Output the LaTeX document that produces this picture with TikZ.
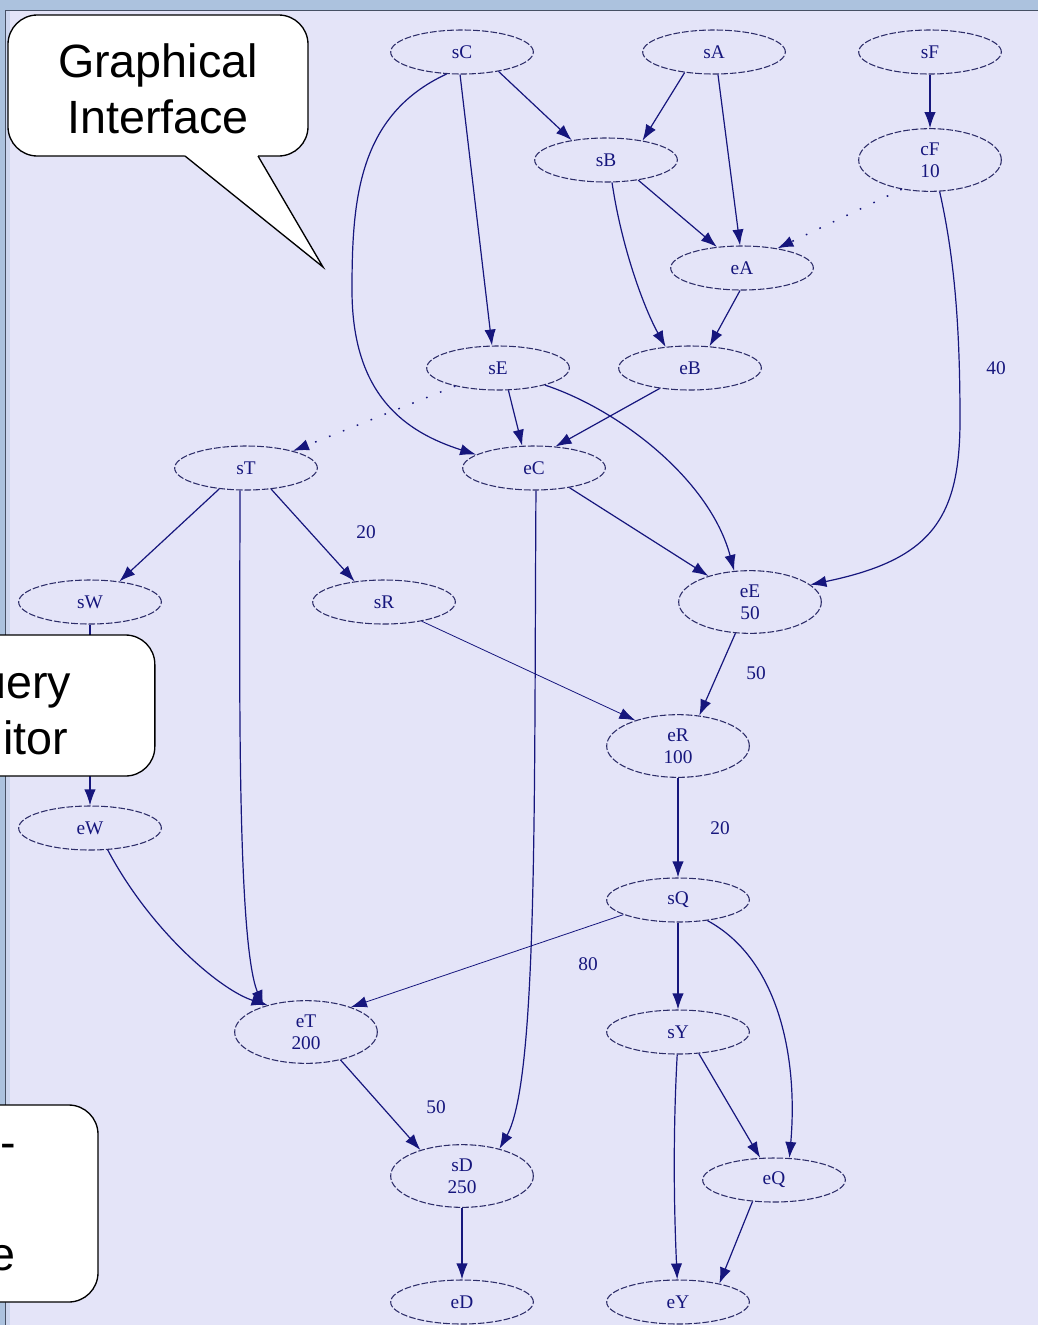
\documentclass[tikz,border=0pt]{standalone}
\usepackage{fontspec}
\setmainfont{Liberation Serif}
\newfontfamily\calloutfont{Liberation Sans}
\usetikzlibrary{arrows.meta,shapes.geometric}

\definecolor{pagebg}{RGB}{228,228,248}
\definecolor{frameblue}{RGB}{172,194,222}
\definecolor{framestrip}{RGB}{205,214,238}
\definecolor{framedark}{RGB}{70,80,100}
\definecolor{edgeblue}{RGB}{22,22,125}
\definecolor{nodeline}{RGB}{45,45,105}

\begin{document}
\begin{tikzpicture}[x=0.75pt,y=-0.75pt,
  gnode/.style={ellipse, draw=nodeline, dash pattern=on 5pt off 1.5pt,
    line width=0.8pt, minimum width=107pt, minimum height=33pt, inner sep=0pt,
    font=\fontsize{14.5}{16.5}\selectfont, text=edgeblue, align=center},
  tall/.style={minimum height=47pt},
  link/.style={draw=edgeblue, line width=0.9pt, -{Latex[length=12pt,width=8.5pt]}},
  faint/.style={link, line width=0.6pt},
  dotlink/.style={link, line width=1.1pt, dash pattern=on 1.2pt off 10pt},
  elabel/.style={font=\fontsize{14.5}{16.5}\selectfont, text=edgeblue, inner sep=0pt},
  callout/.style={draw=black, fill=white, line width=1pt, rounded corners=22pt,
    font=\calloutfont\fontsize{35}{42}\selectfont, align=center, inner sep=0pt},
  callouttext/.style={font=\calloutfont\fontsize{35}{42}\selectfont, inner sep=0pt}
]
% page and window frame
\useasboundingbox (0,0) rectangle (1038,1325);
\clip (0,0) rectangle (1038,1325);
\fill[pagebg] (0,0) rectangle (1038,1325);
\fill[frameblue] (0,0) rectangle (1038,10);
\fill[frameblue] (0,0) rectangle (5,1325);
\fill[framestrip] (6,11) rectangle (10,1325);
\draw[framedark, line width=1pt] (5.5,1325) -- (5.5,10.5) -- (1038,10.5);

% graph nodes
\node[gnode] (sC) at (462,52) {sC};
\node[gnode] (sA) at (714,52) {sA};
\node[gnode] (sF) at (930,52) {sF};
\node[gnode] (sB) at (606,160) {sB};
\node[gnode, tall] (cF) at (930,160) {cF\\10};
\node[gnode] (eA) at (742,268) {eA};
\node[gnode] (sE) at (498,368) {sE};
\node[gnode] (eB) at (690,368) {eB};
\node[gnode] (sT) at (246,468) {sT};
\node[gnode] (eC) at (534,468) {eC};
\node[gnode] (sW) at (90,602) {sW};
\node[gnode] (sR) at (384,602) {sR};
\node[gnode, tall] (eE) at (750,602) {eE\\50};
\node[gnode, tall] (eR) at (678,746) {eR\\100};
\node[gnode] (eW) at (90,828) {eW};
\node[gnode] (sQ) at (678,900) {sQ};
\node[gnode, tall] (eT) at (306,1032) {eT\\200};
\node[gnode] (sY) at (678,1032) {sY};
\node[gnode, tall] (sD) at (462,1176) {sD\\250};
\node[gnode] (eQ) at (774,1180) {eQ};
\node[gnode] (eD) at (462,1302) {eD};
\node[gnode] (eY) at (678,1302) {eY};

% connectors
\draw[link] (sC.-28) -- (sB.150);
\draw[link] (sC.-95) -- (sE.105);
\draw[link] (sC.-125) .. controls (358,115) and (352,200) .. (352,290)
                      .. controls (352,395) and (405,432) .. (eC.167);
\draw[link] (sA.-145) -- (sB.28);
\draw[link] (sA.-80) -- (eA.95);
\draw[link] (sF) -- (cF);
\draw[dotlink] (cF.-134) -- (eA.29);
\draw[link] (cF.-73) .. controls (955,260) and (960,330) .. (960,420)
                     .. controls (960,520) and (930,560) .. (eE.16);
\draw[link] (sB.-32) -- (eA.140);
\draw[link] (sB.-75) .. controls (622,250) and (645,310) .. (eB.139);
\draw[link] (eA.-95) -- (eB.48);
\draw[link] (sE.-65) -- (eC.118);
\draw[dotlink] (sE.-157) -- (sT.20);
\draw[link] (sE.-20) .. controls (620,410) and (710,480) .. (eE.117);
\draw[link] (eB.-146) -- (eC.45);
\draw[link] (sT.-142) -- (sW.35);
\draw[link] (sT.-40) -- (sR.145);
\draw[link] (sT.-105) .. controls (240,650) and (236,940) .. (eT.149);
\draw[link] (eC.-29) -- (eE.148);
\draw[link] (eC.-85) .. controls (534,800) and (538,1080) .. (sD.36);
\draw[link] (sW) -- (eW);
\draw[faint] (sR.-27) -- (eR.149);
\draw[link] (eE.-115) -- (eR.55);
\draw[link] (eR) -- (sQ);
\draw[link] (eW.-51) .. controls (150,930) and (220,990) .. (eT.145);
\draw[faint] (sQ.-165) -- (eT.29);
\draw[link] (sQ) -- (sY);
\draw[link] (sQ.-35) .. controls (780,960) and (798,1060) .. (eQ.55);
\draw[link] (sY.-46) -- (eQ.122);
\draw[link] (sY.-92) .. controls (672,1150) and (675,1230) .. (eY.92);
\draw[link] (eT.-39) -- (sD.148);
\draw[link] (sD) -- (eD);
\draw[link] (eQ.-135) -- (eY.24);

% connector labels
\node[elabel] (w40) at (996,368) {40};
\node[elabel] (w20a) at (366,532) {20};
\node[elabel] (w50a) at (756,673) {50};
\node[elabel] (w20b) at (720,828) {20};
\node[elabel] (w80) at (588,964) {80};
\node[elabel] (w50b) at (436,1107) {50};

% callouts
\node[callout, minimum width=225pt, minimum height=105.75pt] (gui) at (158,85.5) {};
\node[callouttext, align=center] (guitext) at (158,89) {Graphical\\Interface};
\coordinate (guitip) at (323,267);
\fill[white] (184,150) -- (185,156) -- (guitip) -- (258,156) -- (259,150) -- cycle;
\draw[line width=1pt, line join=miter] (185,156) -- (guitip) -- (258,156);

\node[callout, minimum width=221pt, minimum height=105.75pt] (qed) at (7.5,705.5) {};
\node[callouttext, align=center] (qedtext) at (7.5,710) {Query\\Editor};

\node[callout, minimum width=225pt, minimum height=147.75pt] (third) at (-52,1203.5) {};
\node[callouttext, align=right, anchor=east] (thirdtext) at (16,1208) {-\\[42pt]e};
\end{tikzpicture}
\end{document}
